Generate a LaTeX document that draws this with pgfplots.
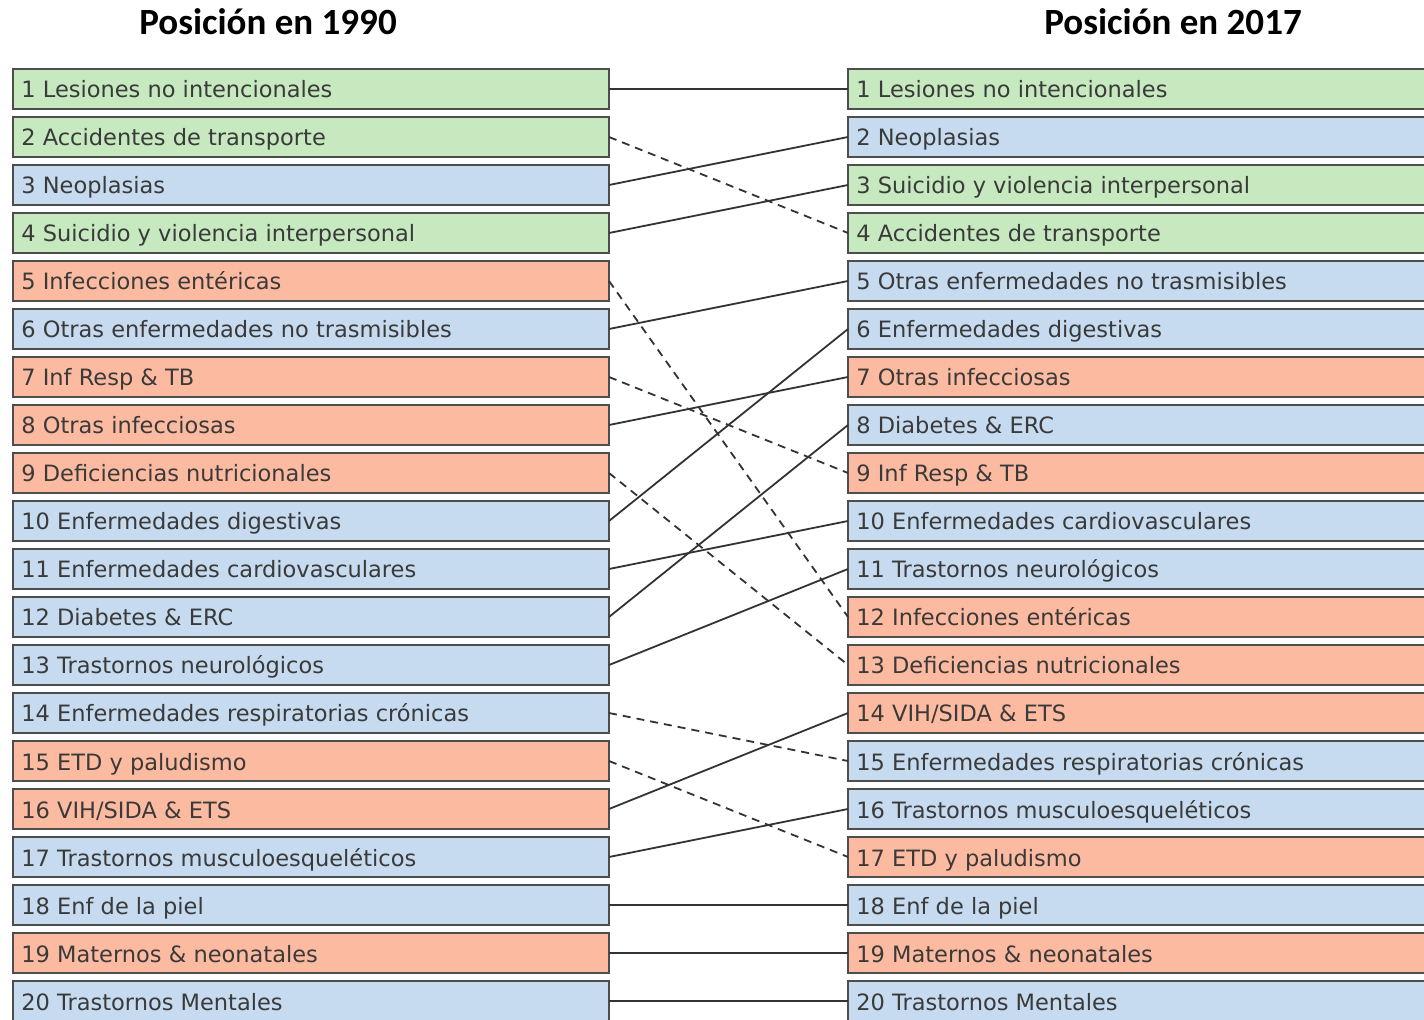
\documentclass[border=0pt]{standalone}
\usepackage{pgfplots}
\pgfplotsset{compat=1.18}
\usepackage{fontspec}
\setmainfont{DejaVu Sans}
\newfontfamily\titlefont{Carlito}
\definecolor{cG}{HTML}{C7E9C0}
\definecolor{cB}{HTML}{C6DBEF}
\definecolor{cO}{HTML}{FCBBA1}
\definecolor{boxline}{HTML}{4D4D4D}
\definecolor{linkc}{HTML}{333333}
\definecolor{txt}{HTML}{3A3A3A}
\tikzset{lab/.style={anchor=base west, inner sep=0pt, text=txt, font=\fontsize{11.25pt}{13pt}\selectfont},
  ttl/.style={anchor=base, inner sep=0pt, font=\titlefont\bfseries\fontsize{18.5pt}{20pt}\selectfont}}
% box on the left (1990) and right (2017): top, bottom, colour
\newcommand{\lbox}[3]{\addplot[draw=boxline, line width=1.1pt, fill=#3] coordinates {(13,#1) (609,#1) (609,#2) (13,#2)} -- cycle;}
\newcommand{\rbox}[3]{\addplot[draw=boxline, line width=1.1pt, fill=#3] coordinates {(848,#1) (1440,#1) (1440,#2) (848,#2)} -- cycle;}
\newcommand{\link}[3][solid]{\addplot[linkc, line width=0.9pt, #1] coordinates {(609,#2) (848,#3)};}
\begin{document}
\begin{tikzpicture}
\begin{axis}[width=712pt, height=510pt, scale only axis,
  xmin=0, xmax=1424, ymin=0, ymax=1020, y dir=reverse,
  axis lines=none, clip=true]
\coordinate (bbsw) at (rel axis cs:0,0);
\coordinate (bbne) at (rel axis cs:1,1);
% ---- 1990 boxes
\lbox{69}{109}{cG}
\lbox{117}{157}{cG}
\lbox{165}{205}{cB}
\lbox{213}{253}{cG}
\lbox{261}{301}{cO}
\lbox{309}{349}{cB}
\lbox{357}{397}{cO}
\lbox{405}{445}{cO}
\lbox{453}{493}{cO}
\lbox{501}{541}{cB}
\lbox{549}{589}{cB}
\lbox{597}{637}{cB}
\lbox{645}{685}{cB}
\lbox{693}{733}{cB}
\lbox{741}{781}{cO}
\lbox{789}{829}{cO}
\lbox{837}{877}{cB}
\lbox{885}{925}{cB}
\lbox{933}{973}{cO}
\lbox{981}{1021}{cB}
% ---- 2017 boxes
\rbox{69}{109}{cG}
\rbox{117}{157}{cB}
\rbox{165}{205}{cG}
\rbox{213}{253}{cG}
\rbox{261}{301}{cB}
\rbox{309}{349}{cB}
\rbox{357}{397}{cO}
\rbox{405}{445}{cB}
\rbox{453}{493}{cO}
\rbox{501}{541}{cB}
\rbox{549}{589}{cB}
\rbox{597}{637}{cO}
\rbox{645}{685}{cO}
\rbox{693}{733}{cO}
\rbox{741}{781}{cB}
\rbox{789}{829}{cB}
\rbox{837}{877}{cO}
\rbox{885}{925}{cB}
\rbox{933}{973}{cO}
\rbox{981}{1021}{cB}
% ---- links (1990 rank -> 2017 rank)
\link{89}{89}
\link[dashed, dash pattern=on 4pt off 3pt]{137}{233}
\link{185}{137}
\link{233}{185}
\link[dashed, dash pattern=on 4pt off 3pt]{281}{617}
\link{329}{281}
\link[dashed, dash pattern=on 4pt off 3pt]{377}{473}
\link{425}{377}
\link[dashed, dash pattern=on 4pt off 3pt]{473}{665}
\link{521}{329}
\link{569}{521}
\link{617}{425}
\link{665}{569}
\link[dashed, dash pattern=on 4pt off 3pt]{713}{761}
\link[dashed, dash pattern=on 4pt off 3pt]{761}{857}
\link{809}{713}
\link{857}{809}
\link{905}{905}
\link{953}{953}
\link{1001}{1001}
% ---- labels 1990
\node[lab] at (axis cs:21,98) {1 Lesiones no intencionales};
\node[lab] at (axis cs:21,146) {2 Accidentes de transporte};
\node[lab] at (axis cs:21,194) {3 Neoplasias};
\node[lab] at (axis cs:21,242) {4 Suicidio y violencia interpersonal};
\node[lab] at (axis cs:21,290) {5 Infecciones entéricas};
\node[lab] at (axis cs:21,338) {6 Otras enfermedades no trasmisibles};
\node[lab] at (axis cs:21,386) {7 Inf Resp \& TB};
\node[lab] at (axis cs:21,434) {8 Otras infecciosas};
\node[lab] at (axis cs:21,482) {9 Deficiencias nutricionales};
\node[lab] at (axis cs:21,530) {10 Enfermedades digestivas};
\node[lab] at (axis cs:21,578) {11 Enfermedades cardiovasculares};
\node[lab] at (axis cs:21,626) {12 Diabetes \& ERC};
\node[lab] at (axis cs:21,674) {13 Trastornos neurológicos};
\node[lab] at (axis cs:21,722) {14 Enfermedades respiratorias crónicas};
\node[lab] at (axis cs:21,770) {15 ETD y paludismo};
\node[lab] at (axis cs:21,818) {16 VIH/SIDA \& ETS};
\node[lab] at (axis cs:21,866) {17 Trastornos musculoesqueléticos};
\node[lab] at (axis cs:21,914) {18 Enf de la piel};
\node[lab] at (axis cs:21,962) {19 Maternos \& neonatales};
\node[lab] at (axis cs:21,1010) {20 Trastornos Mentales};
% ---- labels 2017
\node[lab] at (axis cs:856,98) {1 Lesiones no intencionales};
\node[lab] at (axis cs:856,146) {2 Neoplasias};
\node[lab] at (axis cs:856,194) {3 Suicidio y violencia interpersonal};
\node[lab] at (axis cs:856,242) {4 Accidentes de transporte};
\node[lab] at (axis cs:856,290) {5 Otras enfermedades no trasmisibles};
\node[lab] at (axis cs:856,338) {6 Enfermedades digestivas};
\node[lab] at (axis cs:856,386) {7 Otras infecciosas};
\node[lab] at (axis cs:856,434) {8 Diabetes \& ERC};
\node[lab] at (axis cs:856,482) {9 Inf Resp \& TB};
\node[lab] at (axis cs:856,530) {10 Enfermedades cardiovasculares};
\node[lab] at (axis cs:856,578) {11 Trastornos neurológicos};
\node[lab] at (axis cs:856,626) {12 Infecciones entéricas};
\node[lab] at (axis cs:856,674) {13 Deficiencias nutricionales};
\node[lab] at (axis cs:856,722) {14 VIH/SIDA \& ETS};
\node[lab] at (axis cs:856,770) {15 Enfermedades respiratorias crónicas};
\node[lab] at (axis cs:856,818) {16 Trastornos musculoesqueléticos};
\node[lab] at (axis cs:856,866) {17 ETD y paludismo};
\node[lab] at (axis cs:856,914) {18 Enf de la piel};
\node[lab] at (axis cs:856,962) {19 Maternos \& neonatales};
\node[lab] at (axis cs:856,1010) {20 Trastornos Mentales};
% ---- titles
\node[ttl] at (axis cs:268,35) {Posición en 1990};
\node[ttl] at (axis cs:1173,35) {Posición en 2017};
\end{axis}
\pgfresetboundingbox
\useasboundingbox (bbsw) rectangle (bbne);
\end{tikzpicture}
\end{document}
